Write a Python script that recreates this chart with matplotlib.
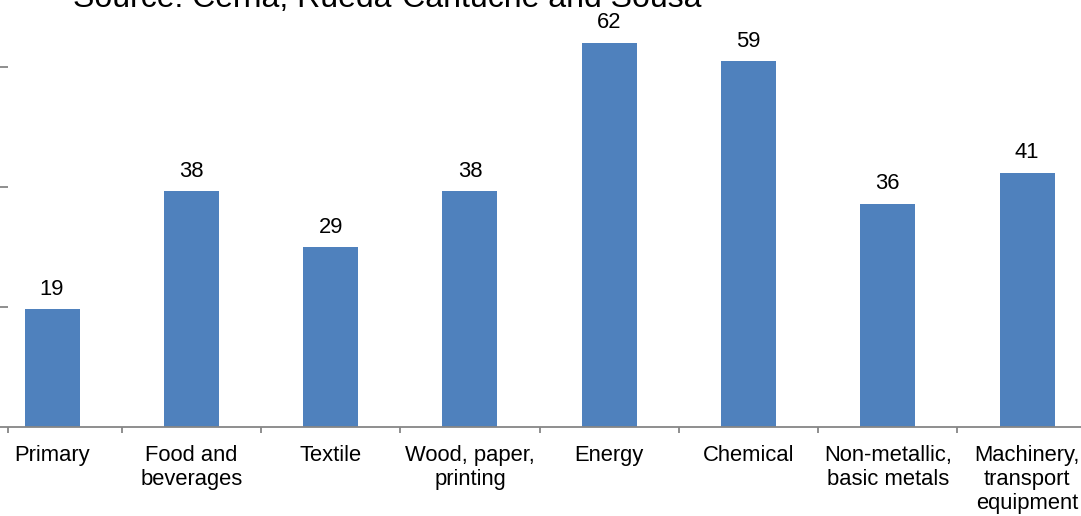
import matplotlib
matplotlib.use("Agg")
import matplotlib.pyplot as plt
import numpy as np

plt.rcParams['font.family'] = ['Liberation Sans', 'DejaVu Sans']

# Data
categories = ["Primary", "Food and\nbeverages", "Textile", "Wood, paper,\nprinting",
              "Energy", "Chemical", "Non-metallic,\nbasic metals",
              "Machinery,\ntransport\nequipment"]
values = [19, 38, 29, 38, 62, 59, 36, 41]
source_text = "Source: Cerna, Rueda-Cantuche and Sousa"

W, H = 1081, 516
fig = plt.figure(figsize=(W / 100, H / 100), dpi=100)

# Axes placed in pixel terms; the plot extends slightly past the figure edges
left_px, right_px = -17.6, 1096.8
bottom_px, top_px = 89, 516
ax = fig.add_axes([left_px / W, bottom_px / H, (right_px - left_px) / W, (top_px - bottom_px) / H])

x = np.arange(len(categories))
bar_color = "#4F81BD"
bars = ax.bar(x, values, width=0.395, color=bar_color, edgecolor="none")

ax.set_xlim(-0.5, len(categories) - 0.5)
ax.set_ylim(0, 68.9)

for xi, v in zip(x, values):
    ax.annotate(str(v), (xi, v), xytext=(0, 7), textcoords="offset points",
                ha="center", va="bottom", fontsize=15.8, color="black")

# Axis styling
axis_gray = "#868686"
for s in ["top", "right"]:
    ax.spines[s].set_visible(False)
ax.spines["bottom"].set_color(axis_gray)
ax.spines["bottom"].set_linewidth(1.3)
ax.spines["left"].set_position(("data", -0.316))
ax.spines["left"].set_visible(False)

tick_step = 19.35
ax.set_yticks([tick_step, 2 * tick_step, 3 * tick_step])
ax.tick_params(axis="y", direction="out", length=6, width=1.3, color=axis_gray,
               labelleft=False)

ax.set_xticks(x)
ax.set_xticklabels(categories, fontsize=15.8, linespacing=1.2)
ax.tick_params(axis="x", length=0, pad=13)
ax.set_xticks(list(np.arange(0.5, len(categories) - 0.5, 1.0)) + [-0.316], minor=True)
ax.tick_params(axis="x", which="minor", direction="out", length=4.5, width=1.3,
               color=axis_gray)

fig.text(73 / W, 1 - 7 / H, source_text, fontsize=23, ha="left", va="baseline",
         color="black")

fig.savefig("out.png", dpi=100)
